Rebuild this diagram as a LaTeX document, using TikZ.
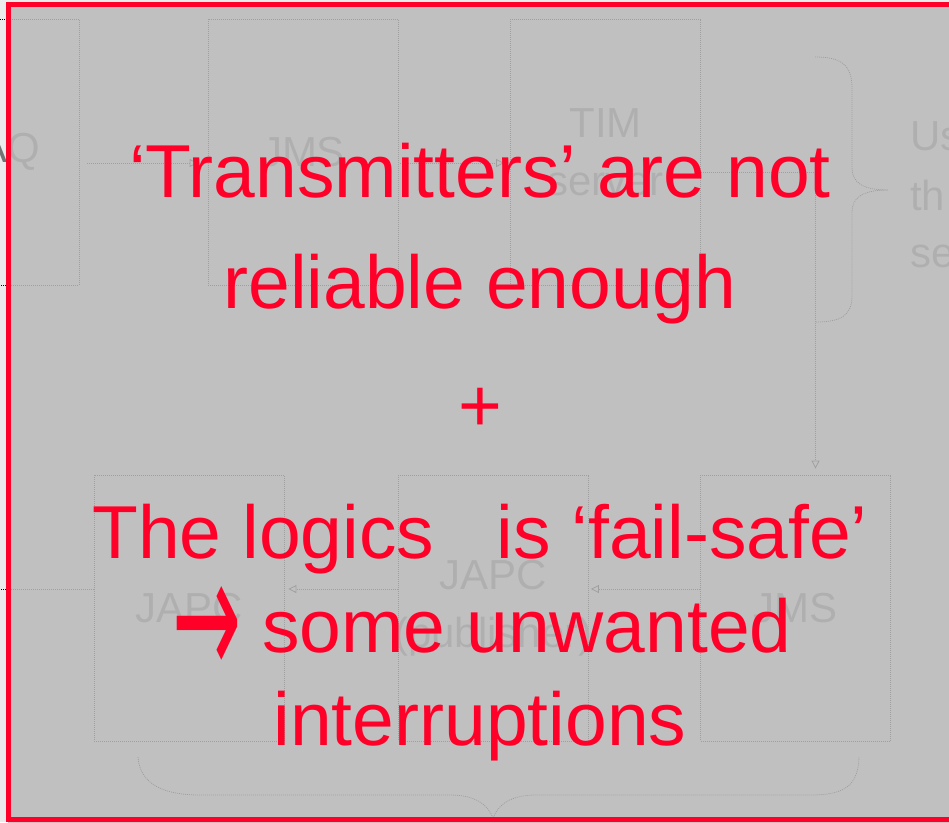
\documentclass[tikz,border=0pt]{standalone}
\usepackage{fontspec}
\setmainfont{Liberation Sans}
\newfontfamily\arrowfont{DejaVu Sans}
\usetikzlibrary{arrows.meta}
\definecolor{alarmred}{RGB}{255,0,40}
\definecolor{paper}{HTML}{EBEBEB}
\definecolor{veil}{HTML}{BABABA}
\newcommand\bigred{\fontsize{75}{90}\selectfont}
\newcommand\lblfont{\fontsize{42}{58}\selectfont}
\begin{document}
\begin{tikzpicture}[x=1pt,y=-1pt,
  faded/.style={draw=black, line width=0.8pt, dash pattern=on 1pt off 1pt},
  fadebox/.style={faded, rectangle, minimum width=190pt, minimum height=266pt,
    inner sep=0pt, align=center, text=black!55, font=\lblfont},
  fadearrow/.style={faded, -{Triangle[open, length=8pt, width=8pt]}},
  sidelbl/.style={text=black!55, font=\lblfont, anchor=base west, inner sep=0pt},
  redline/.style={text=alarmred, font=\bigred, anchor=base, inner sep=0pt}]
\useasboundingbox (0,0) rectangle (949,822);
\clip (0,0) rectangle (949,822);
\fill[paper] (0,0) rectangle (949,822);

% faded diagram
\node[fadebox, minimum width=168pt] (daq) at (-5,152) {DAQ};
\node[fadebox] (jmsa) at (303,152) {JMS};
\node[fadebox] (tim) at (605.5,152) {TIM\\server};
\node[fadebox] (japc) at (189,608) {JAPC};
\node[fadebox] (pub) at (493.5,608) {JAPC\\\makebox[0pt][c]{(publisher)}};
\node[fadebox] (jmsb) at (795.5,608) {JMS};
\node[sidelbl] (us) at (910,150) {Us};
\node[sidelbl] (th) at (910,210) {th};
\node[sidelbl] (se) at (910,267) {se};
\coordinate (leftend) at (0,589);

\draw[fadearrow, shorten <=8pt, shorten >=10pt] ([yshift=-11pt]daq.east) -- ([yshift=-11pt]jmsa.west);
\draw[fadearrow, shorten <=2pt, shorten >=6pt] ([yshift=-11pt]jmsa.east) -- ([yshift=-11pt]tim.west);
\draw[fadearrow, shorten >=6pt] ([yshift=-20pt]tim.east) -| ([xshift=20pt]jmsb.north);
\draw[fadearrow, shorten >=2pt] ([yshift=19pt]jmsb.west) -- ([yshift=19pt]pub.east);
\draw[fadearrow, shorten >=4pt] ([yshift=19pt]pub.west) -- ([yshift=19pt]japc.east);
\draw[faded] ([yshift=19pt]japc.west) -- (leftend);

% braces
\draw[faded] (815,57) .. controls (840,57) and (852,64) .. (852,88) -- (852,168)
  .. controls (852,182) and (862,190) .. (888,190)
  .. controls (862,190) and (852,198) .. (852,212) -- (852,296)
  .. controls (852,316) and (840,322) .. (816,322);
\draw[faded] (138,757) .. controls (140,785) and (165,795) .. (200,795) -- (450,795)
  .. controls (476,795) and (488,805) .. (493,818)
  .. controls (498,805) and (510,795) .. (536,795) -- (810,795)
  .. controls (846,795) and (858,785) .. (859,757);

% grey veil
\fill[veil, opacity=0.86] (8,4) rectangle (960,830);
\draw[alarmred, line width=4.5pt] (8.25,4.25) rectangle (960,819.5);

% red message
\node[redline] (l1) at (480,197) {‘Transmitters’ are not};
\node[redline] (l2) at (480,308) {reliable enough};
\node[redline] (l3) at (480,431) {+};
\node[redline] (l4) at (480,558) {The logics~~~is ‘fail-safe’};
\node[redline] (l5) at (482,652) {{\arrowfont\raisebox{-25pt}{\scalebox{1.1}[2.3]{→}}} some unwanted};
\node[redline] (l6) at (480,745) {interruptions};
\end{tikzpicture}
\end{document}
